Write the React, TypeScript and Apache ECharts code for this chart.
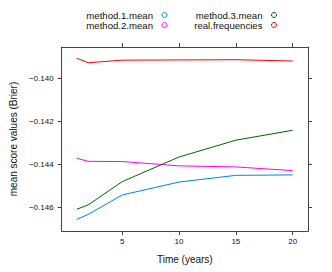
import React, { useEffect, useRef } from "react";
import * as echarts from "echarts";

const times = [1, 2, 5, 10, 15, 20];
const method1 = [-0.14654, -0.14631, -0.14541, -0.14481, -0.1445, -0.14448];
const method2 = [-0.14371, -0.14385, -0.14386, -0.14406, -0.14411, -0.14428];
const method3 = [-0.14607, -0.14587, -0.14479, -0.14365, -0.14287, -0.14241];
const realFreq = [-0.13907, -0.13928, -0.13916, -0.13915, -0.13914, -0.1392];
const xTicks = [5, 10, 15, 20];
const yTicks = [-0.146, -0.144, -0.142, -0.14];
const names = ["method.1.mean", "method.2.mean", "method.3.mean", "real.frequencies"];
const colors = ["#0080ff", "#ff00ff", "#006400", "#ff0000"];

const FONT = "Liberation Sans, Arial, Helvetica, sans-serif";
const AX = "#444";

export default function App() {
  const ref = useRef<HTMLDivElement>(null);
  useEffect(() => {
    if (!ref.current) return;
    const chart = echarts.init(ref.current, null, { renderer: "svg" });
    const values = [method1, method2, method3, realFreq];
    const series = names.map((name, k) => ({
      name,
      type: "line",
      data: times.map((t, i) => [t, values[k][i]]),
      showSymbol: false,
      symbol: "circle",
      lineStyle: { color: colors[k], width: 1 },
      itemStyle: { color: colors[k] },
      z: 3,
    }));
    const legendItem = (k: number) => ({
      name: names[k],
      icon: "circle",
      itemStyle: { color: "#fff", borderColor: colors[k], borderWidth: 1 },
    });
    const xBase = {
      type: "value",
      min: -0.34,
      max: 21.35,
      splitLine: { show: false },
      axisLine: { show: true, onZero: false, lineStyle: { color: AX, width: 1 } },
      axisTick: { show: true, inside: false, length: 4, customValues: xTicks, lineStyle: { color: AX } },
    };
    const yBase = {
      type: "value",
      min: -0.14708,
      max: -0.13855,
      splitLine: { show: false },
      axisLine: { show: true, onZero: false, lineStyle: { color: AX, width: 1 } },
      axisTick: { show: true, inside: false, length: 4, customValues: yTicks, lineStyle: { color: AX } },
    };
    const legendText = (w: number) => ({
      fontFamily: FONT,
      fontSize: 9.6,
      color: "#111",
      width: w,
      lineHeight: 9,
      padding: [0, 4, 0, 0],
    });
    const legendBase = {
      orient: "vertical",
      top: 10,
      align: "right",
      itemWidth: 5,
      itemHeight: 5,
      itemGap: 0,
      padding: 0,
      selectedMode: false,
    };
    chart.setOption({
      animation: false,
      grid: { left: 55, right: 24, top: 47, bottom: 41 },
      legend: [
        { ...legendBase, left: 86, textStyle: legendText(67), data: [legendItem(0), legendItem(1)] },
        { ...legendBase, left: 193, textStyle: legendText(69.5), data: [legendItem(2), legendItem(3)] },
      ],
      xAxis: [
        {
          ...xBase,
          position: "bottom",
          name: "Time (years)",
          nameLocation: "middle",
          nameGap: 23,
          nameTextStyle: { fontFamily: FONT, fontSize: 10, color: "#111" },
          axisLabel: { show: true, customValues: xTicks, margin: 6, fontFamily: FONT, fontSize: 8, color: "#111" },
        },
        { ...xBase, position: "top", axisLabel: { show: false } },
      ],
      yAxis: [
        {
          ...yBase,
          position: "left",
          name: "mean score values (Brier)",
          nameLocation: "middle",
          nameGap: 40,
          nameTextStyle: { fontFamily: FONT, fontSize: 10, color: "#111" },
          axisLabel: {
            show: true,
            customValues: yTicks,
            margin: 8,
            fontFamily: FONT,
            fontSize: 8,
            color: "#111",
            formatter: (v: number) => "\u2212" + Math.abs(v).toFixed(3),
          },
        },
        { ...yBase, position: "right", axisLabel: { show: false } },
      ],
      series,
    });
    return () => chart.dispose();
  }, []);
  return (
    <div
      ref={ref}
      style={{ position: "fixed", left: 0, top: 0, width: 332, height: 272, background: "#fff" }}
    />
  );
}
